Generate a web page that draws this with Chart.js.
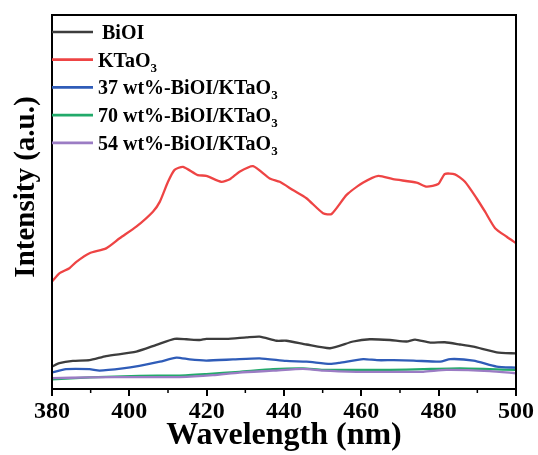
<!DOCTYPE html>
<html><head><meta charset="utf-8">
<script src="https://cdn.jsdelivr.net/npm/chart.js@4"></script>
<style>html,body{margin:0;padding:0;background:#fff}#wrap{width:538px;height:455px}</style>
</head><body><div id="wrap"><canvas id="c" width="538" height="455"></canvas></div>
<script>
const seriesNames = ["BiOI", "KTaO_3", "37 wt%-BiOI/KTaO_3", "70 wt%-BiOI/KTaO_3", "54 wt%-BiOI/KTaO_3"];
const seriesColors = ["#3d3d3d", "#ee4444", "#2f5cb8", "#22aa6a", "#9b7cc4"];
const xTicks = [380, 400, 420, 440, 460, 480, 500];

const biWl  = [380,381.9,385.4,389.7,394.0,401.8,407.0,411.7,414.8,418.2,419.9,425.1,430.3,433.7,438.1,440.6,445.8,451.9,457.9,462.2,467.4,471.7,473.9,477.8,481.6,485.5,489.0,495.0,500];
const biVal = [6.0,6.9,7.5,7.7,8.8,10.0,11.8,13.4,13.3,13.1,13.4,13.4,13.8,14.0,12.9,12.9,11.9,10.9,12.7,13.3,13.1,12.7,13.2,12.4,12.5,11.9,11.3,9.8,9.5];

const ktWl  = [380,381.9,384.5,386.3,389.7,394.0,397.5,401.8,406.1,407.9,410.0,411.7,413.9,417.7,419.9,423.8,426.0,428.5,432.0,436.3,438.9,442.3,445.8,450.1,452.3,456.2,460.5,464.4,468.2,474.3,476.9,479.9,481.6,484.2,486.8,489.8,492.0,494.6,497.6,500];
const ktVal = [28.7,30.9,32.3,34.0,36.3,37.6,40.3,43.4,47.4,50.1,55.4,58.6,59.4,57.2,57.0,55.4,56.1,58.1,59.6,56.3,55.4,53.2,51.0,47.0,46.8,51.9,55.2,57.0,56.1,55.2,54.1,54.8,57.5,57.4,55.4,51.0,47.4,43.0,40.7,39.0];

const b37Wl  = [380,383.6,389.7,392.3,398.3,402.6,407.9,412.2,415.6,419.9,426.8,433.7,440.6,445.8,451.9,454.4,460.5,464.0,468.3,473.5,480.4,483.0,489.0,495.0,500];
const b37Val = [4.4,5.3,5.3,4.9,5.5,6.2,7.3,8.4,7.9,7.6,7.9,8.2,7.5,7.3,6.7,7.0,8.0,7.7,7.7,7.6,7.3,8.0,7.6,6.0,5.7];

const b70Wl  = [380,389.7,402.6,413.0,419.9,428.5,437.2,444.9,450.1,458.8,467.4,476.0,485.5,493.2,500];
const b70Val = [2.6,3.1,3.5,3.6,4.0,4.6,5.3,5.5,5.1,5.1,5.1,5.3,5.5,5.3,5.1];

const b54Wl  = [380,389.7,402.6,413.0,421.6,428.5,437.2,444.9,450.1,458.8,467.4,476.0,482.0,493.2,500];
const b54Val = [2.9,3.1,3.2,3.2,3.7,4.4,4.9,5.4,4.9,4.6,4.6,4.6,5.1,4.8,4.2];

const allWl = [biWl, ktWl, b37Wl, b70Wl, b54Wl];
const allVal = [biVal, ktVal, b37Val, b70Val, b54Val];

const datasets = seriesNames.map((n, i) => ({
  label: n.replace('_3', '3'),
  data: allWl[i].map((x, k) => ({x: x, y: allVal[i][k]})),
  borderColor: seriesColors[i],
  backgroundColor: seriesColors[i],
  borderWidth: 2.3,
  pointRadius: 0,
  tension: 0.2,
  fill: false
}));
datasets.forEach((d, i) => d.order = [1, 0, 2, 4, 3][i]);

const SERIF = '"Liberation Serif", "Times New Roman", serif';

const framePlugin = {
  id: 'frame',
  afterDatasetsDraw(chart) {
    const {ctx, chartArea: a, scales} = chart;
    ctx.save();
    ctx.strokeStyle = '#000';
    ctx.lineWidth = 2;
    ctx.strokeRect(a.left, a.top, a.right - a.left, a.bottom - a.top);
    const xs = scales.x;
    ctx.lineWidth = 1.5;
    for (let v = 390; v < 500; v += 20) {
      const px = xs.getPixelForValue(v);
      ctx.beginPath(); ctx.moveTo(px, a.bottom); ctx.lineTo(px, a.bottom + 4); ctx.stroke();
    }
    seriesNames.forEach((n, i) => {
      const y = 32 + i * 27.7;
      ctx.strokeStyle = seriesColors[i];
      ctx.lineWidth = 2.7;
      ctx.beginPath(); ctx.moveTo(a.left, y); ctx.lineTo(a.left + 41, y); ctx.stroke();
      ctx.fillStyle = '#000';
      ctx.textBaseline = 'alphabetic';
      ctx.textAlign = 'left';
      let x = a.left + 46 + (i === 0 ? 4 : 0);
      const parts = n.split('_');
      ctx.font = 'bold 20px ' + SERIF;
      ctx.fillText(parts[0], x, y + 7);
      if (parts[1]) {
        x += ctx.measureText(parts[0]).width;
        ctx.font = 'bold 13px ' + SERIF;
        ctx.fillText(parts[1], x, y + 12);
      }
    });
    ctx.save();
    ctx.translate(34, 187);
    ctx.rotate(-Math.PI / 2);
    ctx.font = 'bold 29px ' + SERIF;
    ctx.fillStyle = '#000';
    ctx.textAlign = 'center';
    ctx.textBaseline = 'alphabetic';
    ctx.fillText('Intensity (a.u.)', 0, 0);
    ctx.restore();
    ctx.restore();
  }
};

new Chart(document.getElementById('c'), {
  type: 'line',
  data: {datasets},
  options: {
    responsive: false,
    animation: false,
    layout: {padding: {left: 52, right: 22, top: 15, bottom: 0}},
    plugins: {legend: {display: false}, tooltip: {enabled: false}},
    scales: {
      x: {
        type: 'linear', min: 380, max: 500,
        afterBuildTicks: (s) => { s.ticks = xTicks.map(v => ({value: v})); },
        afterFit: (s) => { s.height = 66; },
        grid: {display: true, drawOnChartArea: false, drawTicks: true, tickLength: 7, color: '#000', lineWidth: 2},
        border: {display: true, color: '#000', width: 2},
        ticks: {color: '#000', padding: 1, maxRotation: 0, font: {family: SERIF, size: 24, weight: 'bold'}},
        title: {display: true, text: 'Wavelength (nm)', color: '#000', padding: {top: -5, bottom: 0}, font: {family: SERIF, size: 32, weight: 'bold'}}
      },
      y: {
        min: 0, max: 100,
        afterFit: (s) => { s.width = 0; },
        grid: {display: false},
        border: {display: true, color: '#000', width: 2},
        ticks: {display: false}
      }
    }
  },
  plugins: [framePlugin]
});
</script></body></html>
